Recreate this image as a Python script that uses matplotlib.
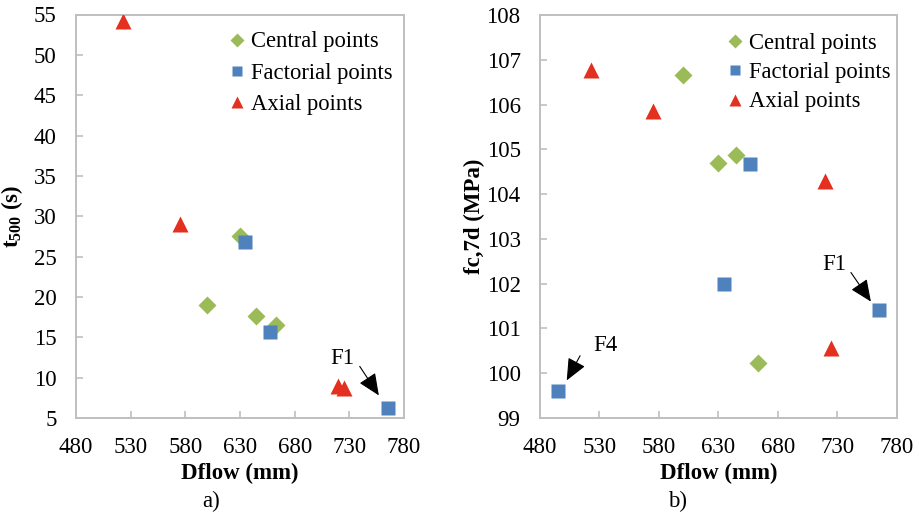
import matplotlib
matplotlib.use("Agg")
import matplotlib.pyplot as plt

plt.rcParams['font.family'] = ['Liberation Serif', 'DejaVu Serif']
plt.rcParams['mathtext.fontset'] = 'custom'
plt.rcParams['mathtext.rm'] = 'Liberation Serif'
plt.rcParams['mathtext.bf'] = 'Liberation Serif:bold'
plt.rcParams['mathtext.it'] = 'Liberation Serif:italic'

# ---- data ----
central_dflow = [600, 630, 645, 663]
central_t500 = [19.0, 27.5, 17.6, 16.5]
central_fc = [106.65, 104.69, 104.88, 100.23]

factorial_dflow_a = [635, 657, 765]
factorial_t500 = [26.8, 15.7, 6.3]
factorial_dflow_b = [495, 635, 657, 765]
factorial_fc = [99.6, 102.0, 104.67, 101.42]

axial_dflow = [523, 575, 720, 725]
axial_t500 = [54.2, 29.1, 9.0, 8.7]
axial_fc = [106.78, 105.85, 104.3, 100.57]

series_labels = ["Central points", "Factorial points", "Axial points"]
x_ticks = [480, 530, 580, 630, 680, 730, 780]
ya_ticks = [5, 10, 15, 20, 25, 30, 35, 40, 45, 50, 55]
yb_ticks = [99, 100, 101, 102, 103, 104, 105, 106, 107, 108]

GREEN = '#9BBB59'
BLUE = '#4F81BD'
RED = '#E3301F'
GRAY = '#BFBFBF'

fig = plt.figure(figsize=(9.2, 5.14), dpi=100)
W, H = 920, 514
axA = fig.add_axes([76 / W, 1 - 418 / H, (404 - 76) / W, (418 - 14.5) / H])
axB = fig.add_axes([540 / W, 1 - 418 / H, (896.7 - 540) / W, (418 - 15) / H])


def style(ax, yticks):
    ax.set_xlim(480, 780)
    ax.set_xticks(x_ticks)
    ax.set_ylim(yticks[0], yticks[-1])
    ax.set_yticks(yticks)
    for s in ax.spines.values():
        s.set_color(GRAY)
        s.set_linewidth(1.4)
    ax.tick_params(direction='in', length=5, width=1.2, color=GRAY,
                   labelsize=16.5)
    ax.tick_params(axis='y', pad=14)
    ax.tick_params(axis='x', pad=14)


def draw(ax, cy, fx, fy, ay, legend_anchor, spacing):
    ax.plot(central_dflow, cy, 'D', color=GREEN, ms=8.8, mec='none',
            label=series_labels[0], zorder=3)
    ax.plot(fx, fy, 's', color=BLUE, ms=9.5, mec='none',
            label=series_labels[1], zorder=3)
    ax.plot(axial_dflow, ay, '^', color=RED, ms=11, mec='none',
            label=series_labels[2], zorder=3)
    ax.legend(loc='upper left', bbox_to_anchor=legend_anchor, frameon=False,
              fontsize=16.3, handlelength=0.7, handletextpad=0.25,
              labelspacing=spacing, borderpad=0, borderaxespad=0,
              markerscale=0.8)


style(axA, ya_ticks)
style(axB, yb_ticks)
draw(axA, central_t500, factorial_dflow_a, factorial_t500, axial_t500, (0.467, 0.958), 0.45)
draw(axB, central_fc, factorial_dflow_b, factorial_fc, axial_fc, (0.525, 0.955), 0.36)

arrow = dict(arrowstyle='-|>,head_length=0.75,head_width=0.33', color='black',
             lw=0.8, mutation_scale=18, shrinkA=0, shrinkB=0)

# panel a annotation
axA.annotate('', xy=(757, 7.8), xytext=(739.5, 11.4), arrowprops=arrow)
axA.text(724, 12.4, 'F1', fontsize=16.5, ha='center', va='center')

# panel b annotations
axB.annotate('', xy=(758.3, 101.6), xytext=(741.5, 102.25), arrowprops=arrow)
axB.text(727.5, 102.42, 'F1', fontsize=16.5, ha='center', va='center')
axB.annotate('', xy=(502.5, 99.84), xytext=(513.7, 100.39), arrowprops=arrow)
axB.text(534.7, 100.63, 'F4', fontsize=16.5, ha='center', va='center')

for ax in (axA, axB):
    ax.set_xlabel('Dflow (mm)', fontsize=16.5, fontweight='bold')
    ax.xaxis.set_label_coords(0.5, -0.112)

axA.set_ylabel(r'$\mathbf{t}_{\mathbf{500}}$ (s)', fontsize=16.5, fontweight='bold')
axA.yaxis.set_label_coords(-0.155, 0.5)
axB.set_ylabel('fc,7d (MPa)', fontsize=16.5, fontweight='bold')
axB.yaxis.set_label_coords(-0.154, 0.5)

fig.text(211 / W, 1 - 501 / H, 'a)', fontsize=16.5, ha='center', va='center')
fig.text(678 / W, 1 - 501 / H, 'b)', fontsize=16.5, ha='center', va='center')

fig.savefig('out.png', dpi=100)
